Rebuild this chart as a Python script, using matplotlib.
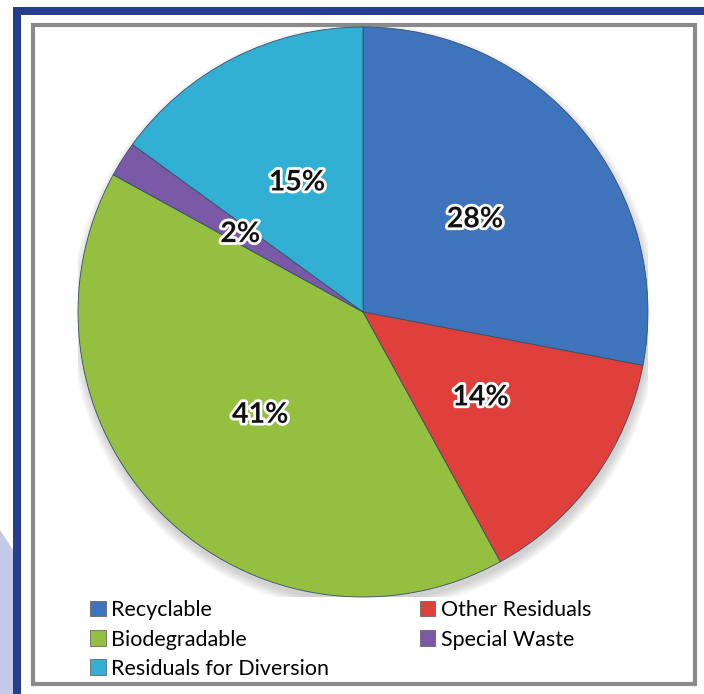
import matplotlib.pyplot as plt
from matplotlib.patches import Rectangle, Patch, Circle, Polygon
import matplotlib.patheffects as pe

# Данные
categories = ["Recyclable", "Other Residuals", "Biodegradable", "Special Waste", "Residuals for Diversion"]
shares = [28, 14, 41, 2, 15]
colors = ["#3E74BB", "#E0403C", "#94BF40", "#7A5AA6", "#31B0D4"]

W, H = 704, 694


def fx(x):
    return x / W


def fy(y):
    # y в пикселях сверху
    return 1 - y / H


fig = plt.figure(figsize=(W / 100, H / 100), dpi=100)
fig.patch.set_facecolor("white")

# Декоративная фигура слева снизу
fig.patches.append(Polygon([(fx(0), fy(530)), (fx(13), fy(550)), (fx(13), fy(694)), (fx(0), fy(694))],
                           closed=True, transform=fig.transFigure, facecolor="#c3c9e6", edgecolor="none"))
# Тёмно-синяя рамка
fig.patches.append(Rectangle((fx(13), fy(15)), fx(704 - 13), 8 / H, transform=fig.transFigure,
                             facecolor="#253f8e", edgecolor="none"))
fig.patches.append(Rectangle((fx(13), fy(694)), 8 / W, (694 - 7) / H, transform=fig.transFigure,
                             facecolor="#253f8e", edgecolor="none"))
# Серая рамка области диаграммы
fig.patches.append(Rectangle((fx(33), fy(684)), fx(695 - 33), (684 - 25) / H, transform=fig.transFigure,
                             facecolor="none", edgecolor="#8a8a8a", linewidth=3))

# Круговая диаграмма
cx, cy, r = 363, 312, 285
ax = fig.add_axes([fx(cx - r), fy(cy + r), 2 * r / W, 2 * r / H])
ax.set_zorder(2)

# мягкая тень под кругом
for i in range(6):
    ax.add_patch(Circle((0.005, -0.02), 1 + 0.006 * i, facecolor="#606060", alpha=0.05, edgecolor="none"))

wedges, texts, autotexts = ax.pie(
    shares, colors=colors, startangle=90, counterclock=False,
    autopct=lambda p: f"{p:.0f}%", pctdistance=0.51,
    wedgeprops=dict(edgecolor="#33506b", linewidth=0.6),
    textprops=dict(fontsize=20.5, fontweight="bold", family=["Lato", "DejaVu Sans"], color="#111111"),
)
for t in autotexts:
    t.set_path_effects([pe.withStroke(linewidth=4, foreground="white")])
ax.set_xlim(-1, 1)
ax.set_ylim(-1, 1)
ax.set_aspect("equal")
ax.axis("off")

# Легенда (порядок по столбцам)
order = [0, 2, 4, 1, 3]
handles = [Patch(facecolor=colors[i], edgecolor="#555555", linewidth=0.5) for i in order]
labels = [categories[i] for i in order]
fig.legend(handles, labels, loc="upper left", bbox_to_anchor=(fx(84), fy(594)), ncol=2,
           frameon=False, prop=dict(family=["Lato", "DejaVu Sans"], size=15.5),
           handlelength=0.7, handleheight=0.7, handletextpad=0.25,
           labelspacing=0.42, columnspacing=4.25, borderaxespad=0, borderpad=0.3)

fig.savefig("out.png", dpi=100)
